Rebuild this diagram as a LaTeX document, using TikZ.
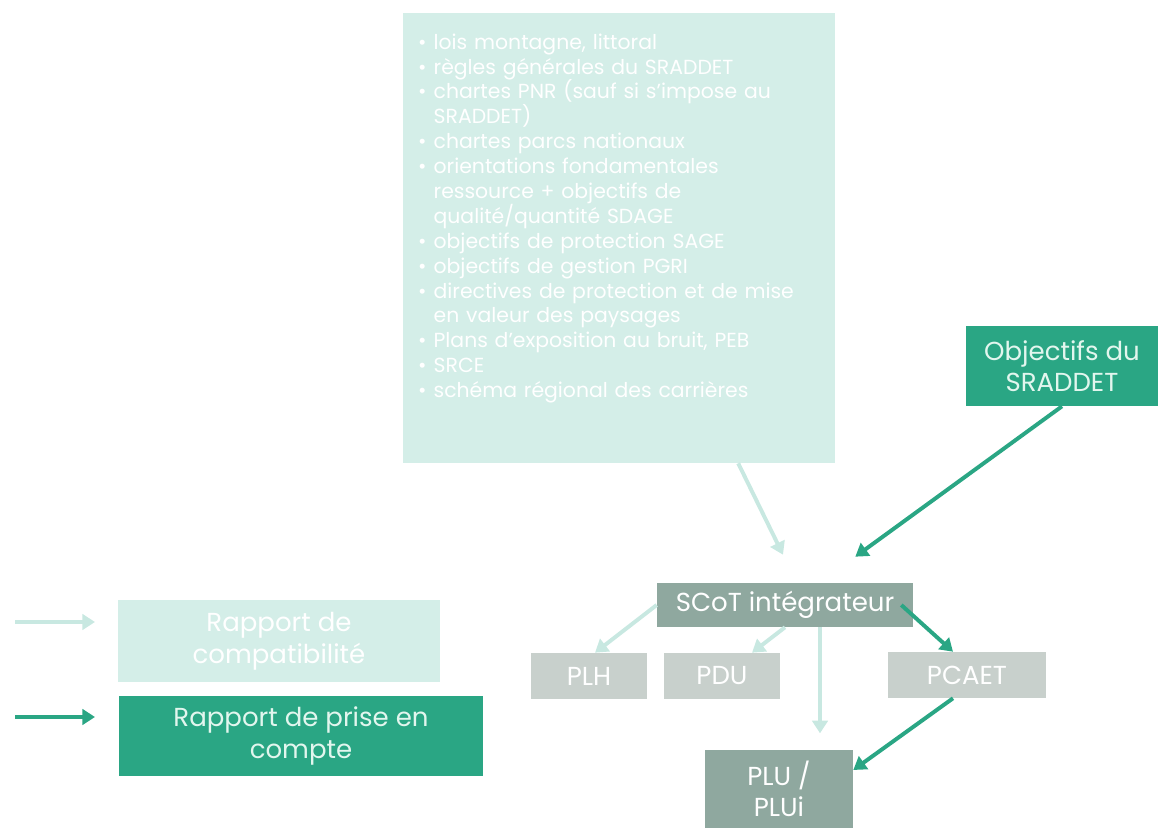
\documentclass[tikz,border=0pt]{standalone}
\usepackage{fontspec}
\setmainfont{Poppins}
\usepackage{enumitem}
\usetikzlibrary{arrows.meta}

\definecolor{paleteal}{RGB}{212,238,232}
\definecolor{compatline}{RGB}{200,232,225}
\definecolor{deepteal}{RGB}{42,166,132}
\definecolor{slategreen}{RGB}{143,168,159}
\definecolor{palegrey}{RGB}{200,208,204}
\definecolor{minttext}{RGB}{226,246,238}

\begin{document}
\begin{tikzpicture}[x=0.025cm, y=-0.025cm,
    box/.style={rectangle, inner sep=2pt, align=center, text=white, font=\fontsize{18.5}{22.5}\selectfont},
    compat/.style={line width=2.8pt, compatline, -{Triangle[length=9pt,width=11pt]}},
    prise/.style={line width=2.8pt, deepteal, -{Triangle[length=9pt,width=11pt]}}]
                % Frame
                \useasboundingbox (0,0) rectangle (1160,828);

                % Big box
                \node[box, fill=paleteal, minimum width=10.8cm, minimum height=11.25cm] (lois) at (619,238) {};
                \node[anchor=north west, text=white, text width=9.7cm, inner sep=0pt,
                      font=\fontsize{14.5}{17.7}\selectfont] (loislist) at (414,24) {%
                  \begin{itemize}[leftmargin=0.95em, itemsep=0pt, topsep=0pt, parsep=0pt, partopsep=0pt]
                    \item lois montagne, littoral
                    \item règles générales du SRADDET
                    \item chartes PNR (sauf si s'impose au SRADDET)
                    \item chartes parcs nationaux
                    \item orientations fondamentales ressource + objectifs de qualité/quantité SDAGE
                    \item objectifs de protection SAGE
                    \item objectifs de gestion PGRI
                    \item directives de protection et de mise en valeur des paysages
                    \item Plans d'exposition au bruit, PEB
                    \item SRCE
                    \item schéma régional des carrières
                  \end{itemize}};

                % Boxes
                \node[box, fill=deepteal, text=minttext, minimum width=4.78cm, minimum height=2cm] (sraddet) at (1062,366) {Objectifs du\\SRADDET};
                \node[box, fill=slategreen, minimum width=6.4cm, minimum height=1.1cm] (scot) at (785,605) {SCoT intégrateur};
                \node[box, fill=palegrey, minimum width=2.9cm, minimum height=1.15cm] (plh) at (589,676) {PLH};
                \node[box, fill=palegrey, minimum width=2.88cm, minimum height=1.15cm] (pdu) at (722,676) {PDU};
                \node[box, fill=palegrey, minimum width=3.95cm, minimum height=1.15cm] (pcaet) at (967,675) {PCAET};
                \node[box, fill=slategreen, minimum width=3.7cm, minimum height=1.95cm] (plu) at (779,789) {PLU /\\PLUi};

                % Legend
                \node[box, fill=paleteal, minimum width=8.05cm, minimum height=2.05cm] (legcompat) at (279,641) {Rapport de\\compatibilité};
                \node[box, fill=deepteal, text=minttext, minimum width=9.08cm, minimum height=2cm] (legprise) at (301,736) {Rapport de prise en\\compte};
                \coordinate (lc1) at (15,622);
                \coordinate (lc2) at (95,622);
                \coordinate (lp1) at (15,717);
                \coordinate (lp2) at (95,717);
                \draw[compat] (lc1) -- (lc2);
                \draw[prise] (lp1) -- (lp2);

                % Arrows
                \draw[compat] ([xshift=2.98cm]lois.south) -- ([xshift=-0.05cm, yshift=0.7cm]scot.north);
                \draw[prise] (sraddet.south) -- ([xshift=-1.45cm, yshift=0.65cm]scot.north east);
                \draw[compat] (scot.west) -- ([xshift=0.15cm]plh.north);
                \draw[compat] (scot.south) -- ([xshift=0.75cm]pdu.north);
                \draw[compat] ([xshift=0.875cm]scot.south) -- ++(0,-2.65cm);
                \draw[prise] ([xshift=-0.3cm]scot.east) -- ([xshift=-0.35cm]pcaet.north);
                \draw[prise] ([xshift=-0.35cm]pcaet.south) -- ([yshift=0.475cm]plu.east);
\end{tikzpicture}
\end{document}
